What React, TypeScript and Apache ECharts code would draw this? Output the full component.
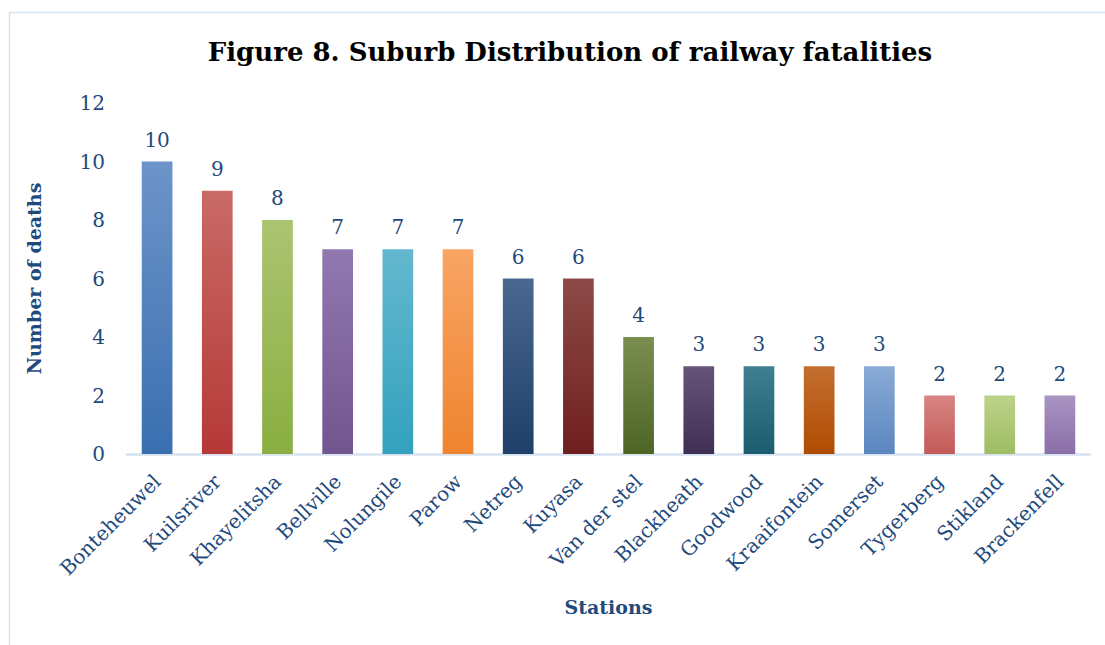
import React, { useEffect, useRef } from "react";
import * as echarts from "echarts";

const stations = ["Bonteheuwel", "Kuilsriver", "Khayelitsha", "Bellville", "Nolungile", "Parow", "Netreg", "Kuyasa", "Van der stel", "Blackheath", "Goodwood", "Kraaifontein", "Somerset", "Tygerberg", "Stikland", "Brackenfell"];
const deaths = [10, 9, 8, 7, 7, 7, 6, 6, 4, 3, 3, 3, 3, 2, 2, 2];
const topColors = ["#6d94c9", "#c96a67", "#abc471", "#9278b0", "#64b8cf", "#f9a464", "#4a6890", "#8d4a48", "#7a8e50", "#665478", "#3f7f90", "#c46e30", "#8aabd6", "#d88583", "#bcd28a", "#a994c2"];
const bottomColors = ["#3a6fb0", "#b53936", "#8aae41", "#71558f", "#33a1bd", "#ee842f", "#1f3f69", "#6f1f1d", "#4d6524", "#402f55", "#1a5d6f", "#b04c02", "#5a86bf", "#c25a58", "#9fbd63", "#8a6ea8"];
const yTicks = [0, 2, 4, 6, 8, 10, 12];

const textColor = "#1f4a7c";
const serif = "'DejaVu Serif', 'Liberation Serif', serif";

export default function App() {
  const ref = useRef<HTMLDivElement>(null);
  useEffect(() => {
    if (!ref.current) return;
    const chart = echarts.init(ref.current, null, { renderer: "svg" });
    chart.setOption({
      animation: false,
      backgroundColor: "#ffffff",
      title: {
        text: "Figure 8. Suburb Distribution of railway fatalities",
        left: 565,
        top: 34,
        textAlign: "center",
        textStyle: { fontFamily: serif, fontWeight: "bold", fontSize: 26, color: "#000000" },
      },
      graphic: [
        {
          type: "rect",
          shape: { x: 9.5, y: 12.5, width: 1300, height: 1000 },
          style: { fill: "none", stroke: "#d6e2f0", lineWidth: 1.5 },
          silent: true,
        },
      ],
      grid: { left: 127, right: 15, top: 103, bottom: 191 },
      xAxis: {
        type: "category",
        data: stations,
        name: "Stations",
        nameLocation: "middle",
        nameGap: 143,
        nameTextStyle: { fontFamily: serif, fontWeight: "bold", fontSize: 19, color: textColor },
        axisLine: { show: true, lineStyle: { color: "#d6e2f0", width: 2.5 } },
        axisTick: { show: false },
        axisLabel: { rotate: 45, interval: 0, fontFamily: serif, fontSize: 20, color: textColor, margin: 24 },
      },
      yAxis: {
        type: "value",
        min: 0,
        max: 12,
        interval: 2,
        name: "Number of deaths",
        nameLocation: "middle",
        nameGap: 84,
        nameTextStyle: { fontFamily: serif, fontWeight: "bold", fontSize: 19, color: textColor },
        splitLine: { show: false },
        axisLine: { show: false },
        axisTick: { show: false },
        axisLabel: {
          fontFamily: serif,
          fontSize: 20,
          color: textColor,
          margin: 22,
          formatter: (v: number) => (yTicks.includes(v) ? String(v) : ""),
        },
      },
      series: [
        {
          type: "bar",
          barWidth: "51%",
          data: deaths.map((v, i) => ({
            value: v,
            itemStyle: {
              color: new echarts.graphic.LinearGradient(0, 0, 0, 1, [
                { offset: 0, color: topColors[i] },
                { offset: 1, color: bottomColors[i] },
              ]),
            },
          })),
          label: {
            show: true,
            position: "top",
            distance: 12,
            fontFamily: serif,
            fontSize: 20,
            color: textColor,
          },
        },
      ],
    });
    return () => chart.dispose();
  }, []);
  return <div ref={ref} style={{ position: "absolute", left: 0, top: 0, width: 1105, height: 645 }} />;
}
